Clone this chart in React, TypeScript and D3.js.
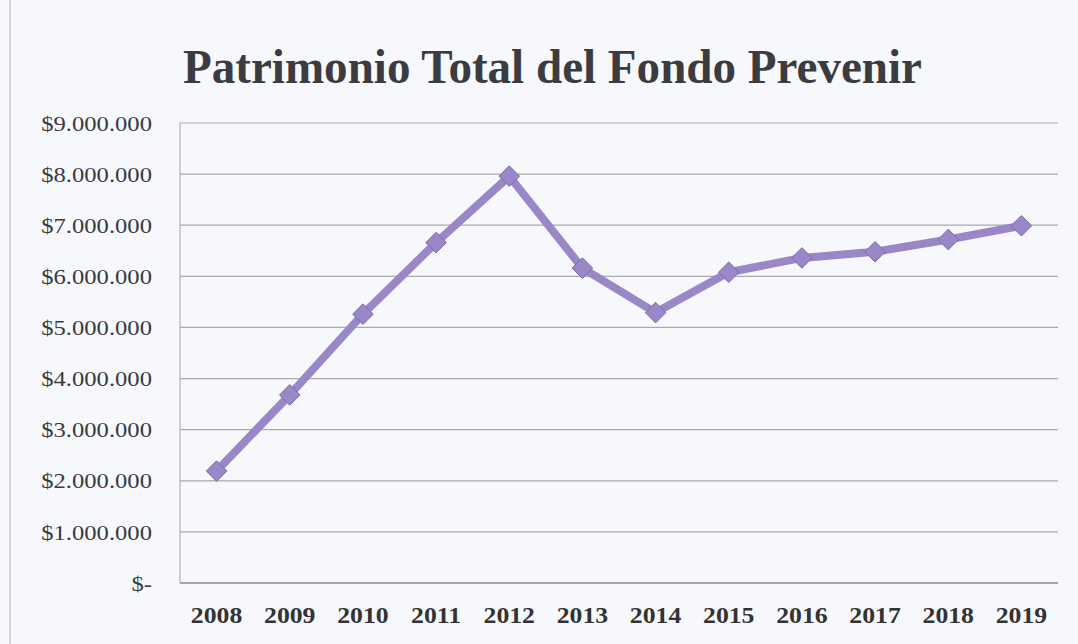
import React from "react";
import * as d3 from "d3";

const years = ["2008","2009","2010","2011","2012","2013","2014","2015","2016","2017","2018","2019"];
const values = [2190000,3680000,5260000,6660000,7960000,6160000,5290000,6080000,6360000,6480000,6720000,6990000];
const yTicks = [0,1000000,2000000,3000000,4000000,5000000,6000000,7000000,8000000,9000000];
const title = "Patrimonio Total del Fondo Prevenir";

const W = 1078, H = 644;
const left = 180, right = 1058, top = 123, bottom = 583;

function fmt(v: number) {
  if (v === 0) return "$-";
  return "$" + d3.format(",")(v).replace(/,/g, ".");
}

export default function App() {
  const x = d3.scaleBand<string>().domain(years).range([left, right]);
  const y = d3.scaleLinear().domain([0, 9000000]).range([bottom, top]);
  const cx = (yr: string) => (x(yr) as number) + x.bandwidth() / 2;
  const line = d3.line<number>().x((_, i) => cx(years[i])).y((d) => y(d));
  const diamond = d3.symbol().type(d3.symbolDiamond2).size(270);
  const serif = "'Liberation Serif', 'DejaVu Serif', serif";
  return (
    <svg width={W} height={H} style={{ position: "absolute", left: 0, top: 0, display: "block" }}>
      <rect x={0} y={0} width={W} height={H} fill="#f6f8fc" />
      <line x1={10} y1={0} x2={10} y2={H} stroke="#c8c8cc" strokeWidth={1.5} />
      <text x={183} y={83} fontFamily={serif} fontWeight="bold" fontSize={48} fill="#3c3c40" textLength={739} lengthAdjust="spacingAndGlyphs">{title}</text>
      {yTicks.map((t) => (
        <g key={t}>
          {t > 0 && <line x1={left} x2={right} y1={y(t)} y2={y(t)} stroke="#a9a9ad" strokeWidth={1.2} />}
          <text transform={`translate(152,${y(t)}) scale(1.12,1)`} dy="0.35em" textAnchor="end" fontFamily={serif} fontSize={22} fill="#3a3a3e">{fmt(t)}</text>
        </g>
      ))}
      <line x1={left} x2={left} y1={top} y2={bottom} stroke="#b0b0b4" strokeWidth={1.2} />
      <line x1={left} x2={right} y1={bottom} y2={bottom} stroke="#8a8a8e" strokeWidth={1.4} />
      {years.map((yr) => (
        <text key={yr} transform={`translate(${cx(yr)},623) scale(1.12,1)`} textAnchor="middle" fontFamily={serif} fontWeight="bold" fontSize={23} fill="#333">{yr}</text>
      ))}
      <path d={line(values) || ""} fill="none" stroke="#9a87c8" strokeWidth={8} strokeLinejoin="round" />
      {values.map((v, i) => (
        <path key={i} d={diamond() || ""} transform={`translate(${cx(years[i])},${y(v)})`} fill="#9a87c8" stroke="#7d6aa8" strokeWidth={1} />
      ))}
    </svg>
  );
}
